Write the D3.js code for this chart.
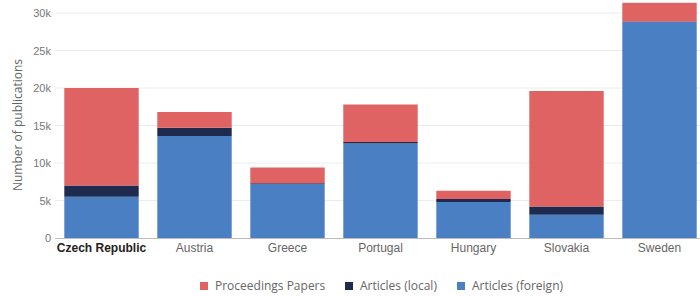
<!DOCTYPE html>
<html>
<head>
<meta charset="utf-8">
<script src="https://cdn.jsdelivr.net/npm/d3@7"></script>
<style>
  body { margin: 0; background: #fff; }
  svg { font-family: "Open Sans", sans-serif; }
</style>
</head>
<body>
<div class="canvas"></div>
<script>
// chart data
const countries = ['Czech Republic', 'Austria', 'Greece', 'Portugal', 'Hungary', 'Slovakia', 'Sweden'];
const articlesForeign = [5500, 13600, 7200, 12600, 4800, 3100, 28800];
const articlesLocal = [1500, 1100, 100, 200, 400, 1100, 60];
const proceedings = [13000, 2100, 2100, 5000, 1100, 15400, 2500];
const yTicks = [0, 5000, 10000, 15000, 20000, 25000, 30000];

const seriesNames = ['Articles (foreign)', 'Articles (local)', 'Proceedings Papers'];
const seriesColors = ['#4a80c3', '#1e2a4e', '#e06363'];

const width = 700;
const height = 296;

const svg = d3.select('.canvas')
    .append('svg')
    .attr('width', width)
    .attr('height', height);

// scales
const x = d3.scaleBand()
    .domain(countries)
    .range([55, 706])
    .paddingInner(0.2)
    .paddingOuter(0.1);

const y = d3.scaleLinear()
    .domain([0, 30000])
    .range([238, 13]);

// gridlines
svg.append('g')
    .selectAll('line')
    .data(yTicks.slice(1))
    .enter()
    .append('line')
    .attr('x1', 55)
    .attr('x2', width)
    .attr('y1', d => y(d))
    .attr('y2', d => y(d))
    .attr('stroke', '#ececec')
    .attr('stroke-width', 1);

// stack the series
const table = countries.map((c, i) => ({
    country: c,
    'Articles (foreign)': articlesForeign[i],
    'Articles (local)': articlesLocal[i],
    'Proceedings Papers': proceedings[i]
}));
const stacked = d3.stack().keys(seriesNames)(table);

svg.append('g')
    .selectAll('g')
    .data(stacked)
    .enter()
    .append('g')
    .attr('fill', (d, i) => seriesColors[i])
    .selectAll('rect')
    .data(d => d)
    .enter()
    .append('rect')
    .attr('x', d => x(d.data.country))
    .attr('width', x.bandwidth())
    .attr('y', d => y(d[1]))
    .attr('height', d => y(d[0]) - y(d[1]));

// baseline
svg.append('line')
    .attr('x1', 55)
    .attr('x2', width)
    .attr('y1', y(0) + 0.5)
    .attr('y2', y(0) + 0.5)
    .attr('stroke', '#bbb');

// y axis
const yAxis = d3.axisLeft(y)
    .tickValues(yTicks)
    .tickSize(0)
    .tickPadding(4)
    .tickFormat(d => d === 0 ? '0' : (d / 1000) + 'k');

const yAxisGroup = svg.append('g')
    .attr('transform', 'translate(55,0)')
    .call(yAxis);
yAxisGroup.select('.domain').remove();
yAxisGroup.selectAll('text')
    .attr('fill', '#777')
    .attr('font-size', 11);

// x axis
const xAxisGroup = svg.append('g')
    .attr('transform', `translate(0, ${y(0)})`)
    .call(d3.axisBottom(x).tickSize(0).tickPadding(5));
xAxisGroup.select('.domain').remove();
xAxisGroup.selectAll('text')
    .attr('fill', d => d === 'Czech Republic' ? '#222' : '#666')
    .attr('font-size', 12)
    .style('font-weight', d => d === 'Czech Republic' ? 'bold' : 'normal');

// y axis title
svg.append('text')
    .attr('transform', 'translate(22,125) rotate(-90)')
    .attr('text-anchor', 'middle')
    .attr('fill', '#666')
    .attr('font-size', 12)
    .text('Number of publications');

// legend
const legendItems = [
    { name: 'Proceedings Papers', color: seriesColors[2], x: 200 },
    { name: 'Articles (local)', color: seriesColors[1], x: 345 },
    { name: 'Articles (foreign)', color: seriesColors[0], x: 457 }
];
const legend = svg.append('g').selectAll('g')
    .data(legendItems)
    .enter()
    .append('g')
    .attr('transform', d => `translate(${d.x}, 286)`);
legend.append('rect')
    .attr('x', 0)
    .attr('y', -4)
    .attr('width', 8)
    .attr('height', 8)
    .attr('fill', d => d.color);
legend.append('text')
    .attr('x', 15)
    .attr('y', 4)
    .attr('fill', '#666')
    .attr('font-size', 12)
    .text(d => d.name);
</script>
</body>
</html>
